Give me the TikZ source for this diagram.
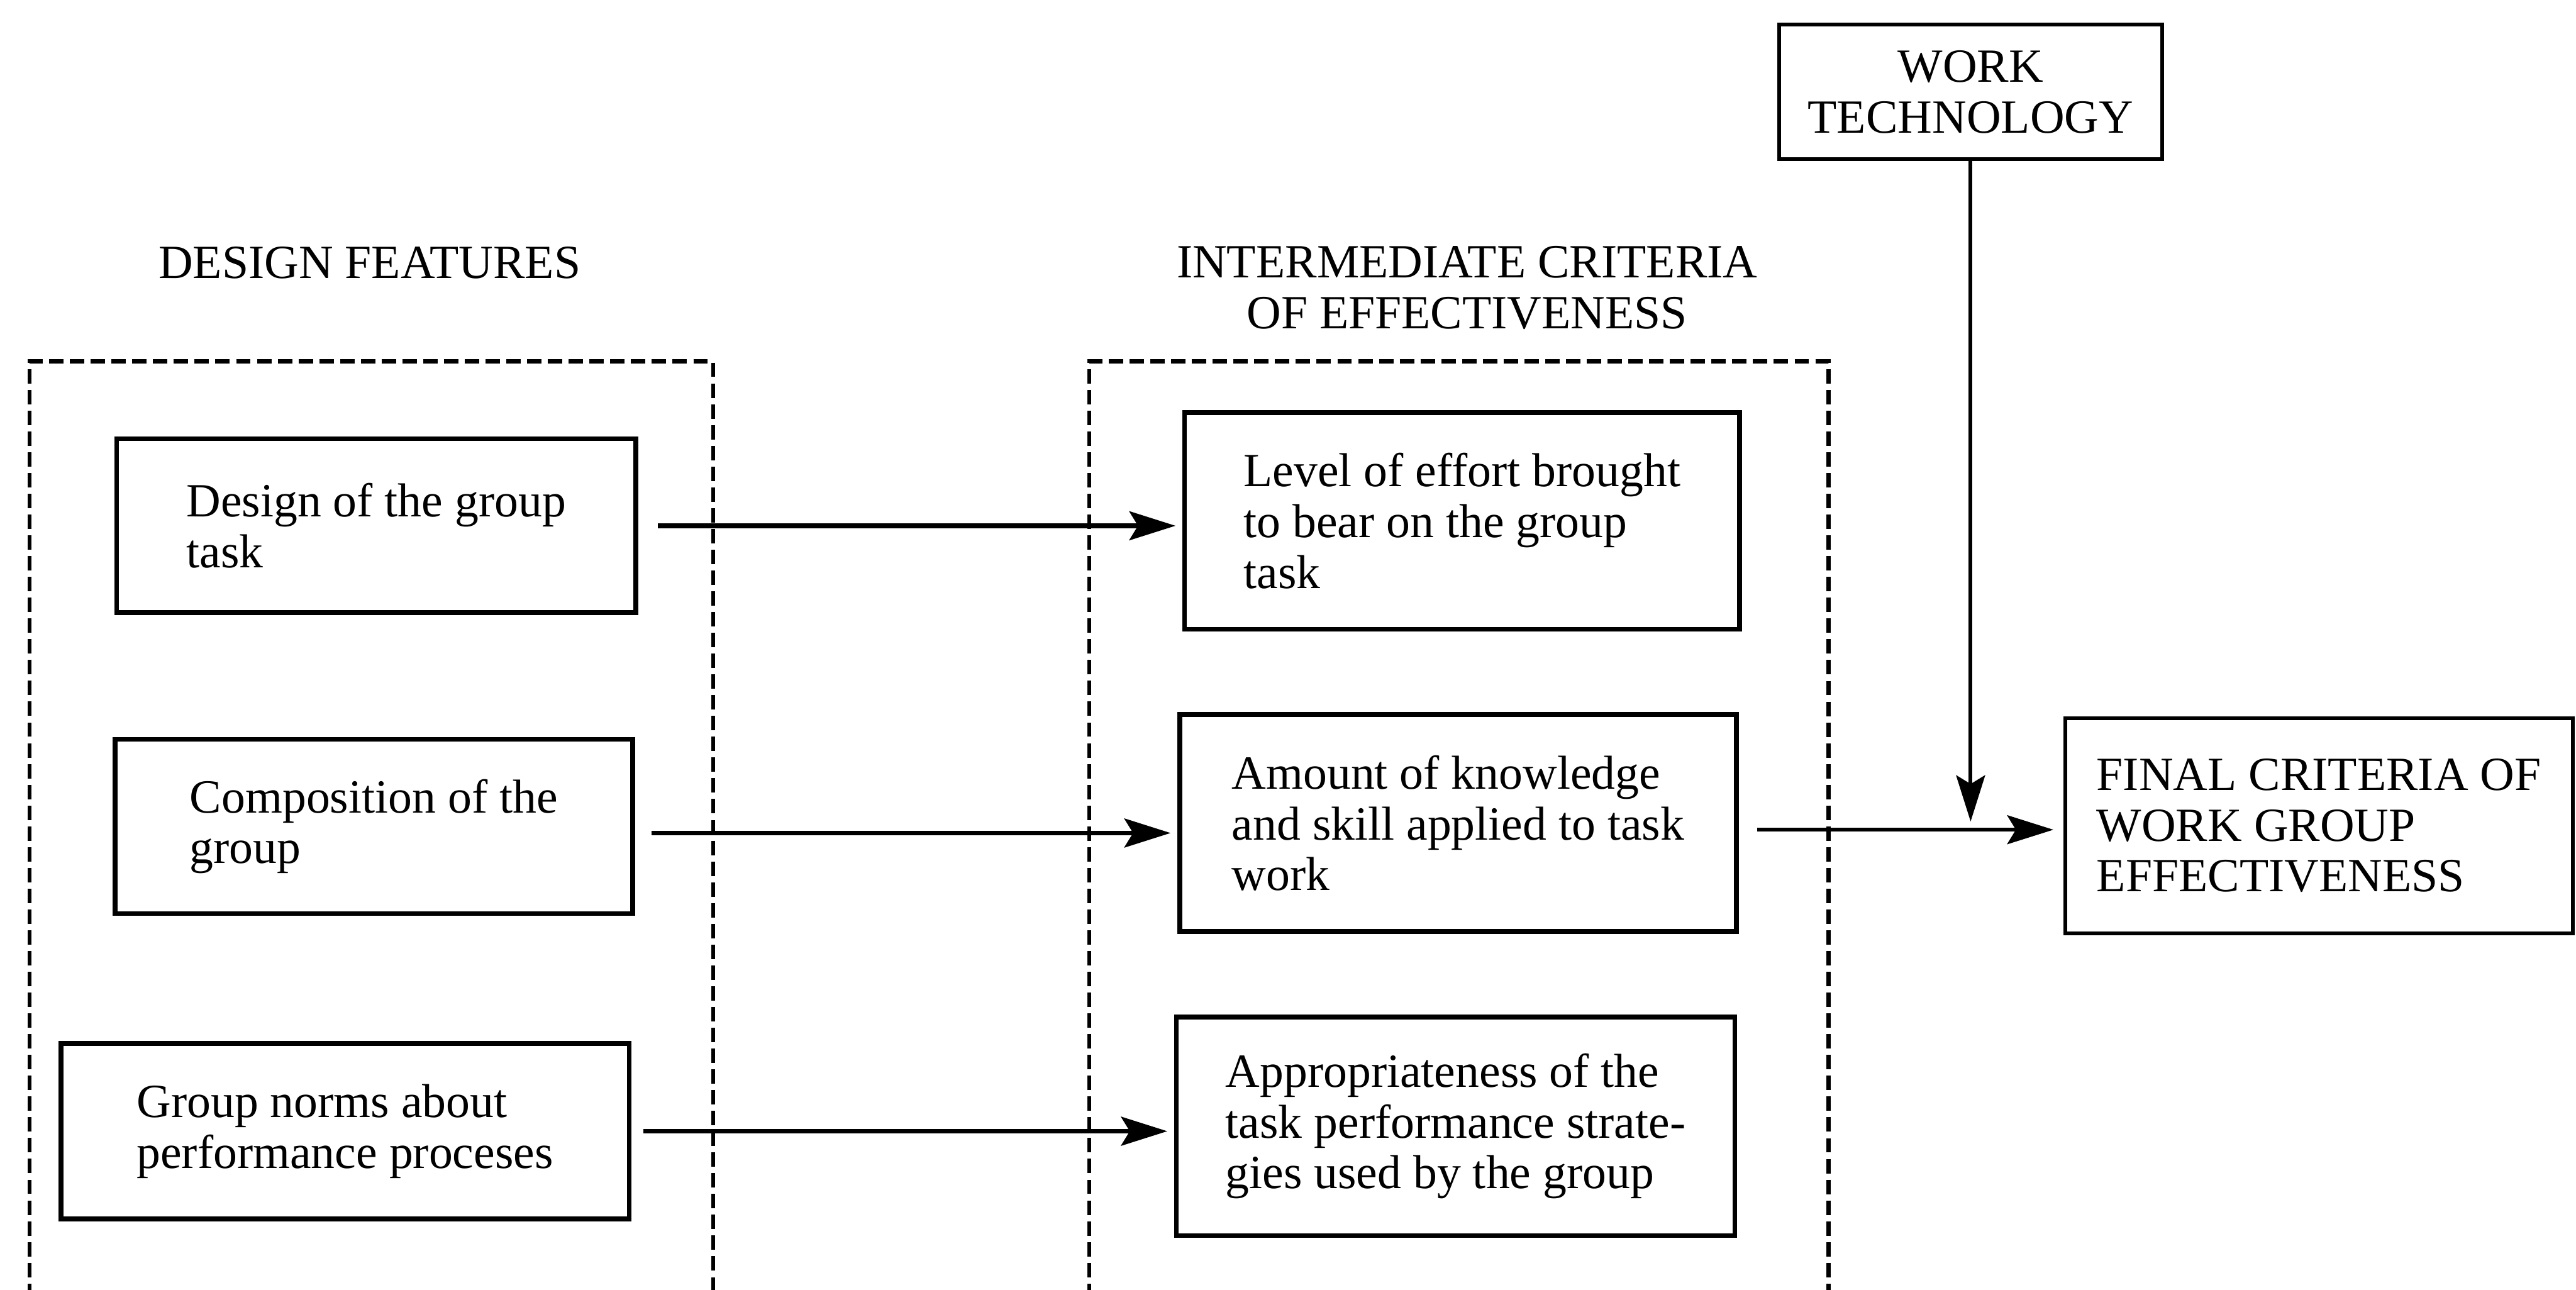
\documentclass[tikz,border=0pt]{standalone}
\usepackage{fontspec}
\setmainfont{Liberation Serif}
\usetikzlibrary{arrows.meta}
\begin{document}
\begin{tikzpicture}[x=0.02cm,y=-0.02cm,
  lbl/.style={font=\fontsize{16.5}{17.6}\selectfont, align=left, inner sep=0pt},
  box/.style={lbl, draw, line width=1.7pt},
  head/.style={font=\fontsize{16.5}{17.6}\selectfont, align=center, inner sep=0pt},
  frame/.style={line width=1.4pt, dash pattern=on 5pt off 2.2pt},
  arr/.style={line width=1.6pt, -{Stealth[length=16pt,width=10pt,inset=3pt]}}]
\useasboundingbox (0,0) rectangle (1568,785);

% dashed groupings, open at the bottom
\draw[frame] (18,790) -- (18,220) -- (434,220) -- (434,790);
\draw[frame] (663,790) -- (663,220) -- (1113,220) -- (1113,790);

% headings
\node[head] (hd) at (225,160) {DESIGN FEATURES};
\node[head] (hi) at (893,175) {INTERMEDIATE CRITERIA\\OF EFFECTIVENESS};

% design features
\node[box, minimum width=6.32cm, minimum height=2.12cm] (b1) at (229,320) {Design of the group\\task};
\node[box, minimum width=6.30cm, minimum height=2.12cm] (b2) at (227.5,503) {Composition of the\\group};
\node[box, minimum width=6.92cm, minimum height=2.14cm] (b3) at (210,688.5) {Group norms about\\performance proceses};

% intermediate criteria
\node[box, minimum width=6.76cm, minimum height=2.64cm] (m1) at (890,317) {Level of effort brought\\to bear on the group\\task};
\node[box, minimum width=6.78cm, minimum height=2.64cm] (m2) at (887.5,501) {Amount of knowledge\\and skill applied to task\\work};
\node[box, minimum width=6.80cm, minimum height=2.66cm] (m3) at (886,685.5) {Appropriateness of the\\task performance strate-\\gies used by the group};

% technology and final outcome
\node[box, line width=1.3pt, align=center, minimum width=4.66cm, minimum height=1.64cm] (wt) at (1199.5,56) {WORK\\TECHNOLOGY};
\node[box, line width=1.3pt, minimum width=6.18cm, minimum height=2.62cm] (fin) at (1411.5,502.5) {FINAL CRITERIA OF\\WORK GROUP\\EFFECTIVENESS};

% connectors
\draw[arr, shorten <=0.24cm, shorten >=0.08cm] (b1.east) -- (b1.east -| m1.west);
\draw[arr, shorten <=0.2cm, shorten >=0.08cm] ([yshift=-0.08cm]b2.east) -- ([yshift=-0.08cm]b2.east -| m2.west);
\draw[arr, shorten <=0.14cm, shorten >=0.08cm] (b3.east) -- (b3.east -| m3.west);
\coordinate (j) at (wt.south |- 0,505);
\draw[arr, line width=1.3pt, shorten <=0.22cm, shorten >=0.12cm] ([yshift=-0.08cm]m2.east) -- ([yshift=-0.08cm]m2.east -| fin.west);
\draw[arr, line width=1.3pt, shorten >=0.1cm] (wt.south) -- (j);
\end{tikzpicture}
\end{document}
